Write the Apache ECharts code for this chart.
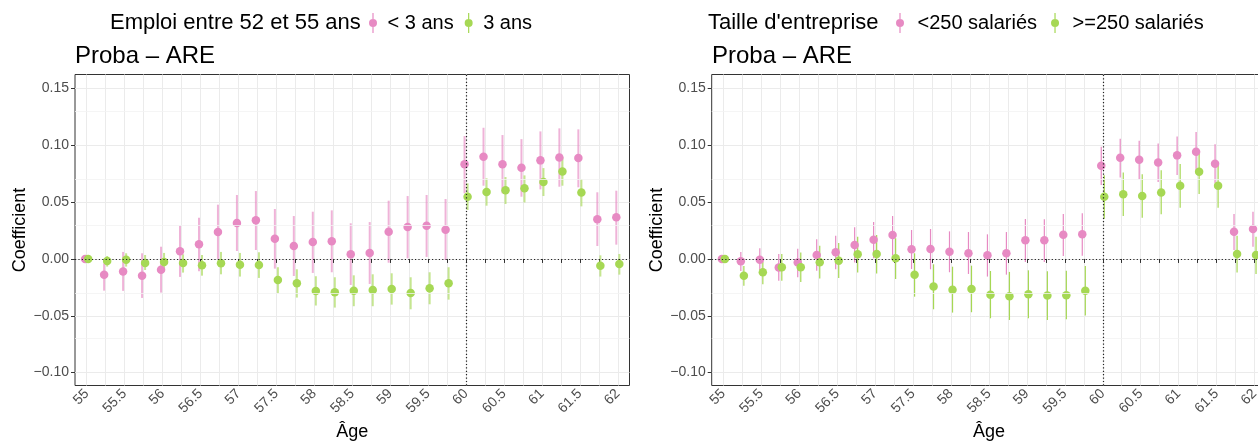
<!DOCTYPE html>
<html><head><meta charset="utf-8">
<script src="https://cdn.jsdelivr.net/npm/echarts@6/dist/echarts.min.js"></script>
<style>html,body{margin:0;padding:0;background:#fff;overflow:hidden}#c{width:1258px;height:441px}</style>
</head><body><div id="c"></div><script>
// ---- data ----
const ages = [55, 55.25, 55.5, 55.75, 56, 56.25, 56.5, 56.75, 57, 57.25, 57.5, 57.75, 58, 58.25,
  58.5, 58.75, 59, 59.25, 59.5, 59.75, 60, 60.25, 60.5, 60.75, 61, 61.25, 61.5, 61.75, 62];
const xLabelValues = [55, 55.5, 56, 56.5, 57, 57.5, 58, 58.5, 59, 59.5, 60, 60.5, 61, 61.5, 62];
const yTickValues = [-0.10, -0.05, 0.00, 0.05, 0.10, 0.15];
const yMinorValues = [-0.075, -0.025, 0.025, 0.075, 0.125];

const legendTitleA = 'Emploi entre 52 et 55 ans';
const seriesNamesA = ['< 3 ans', '3 ans'];
const legendTitleB = "Taille d'entreprise";
const seriesNamesB = ['<250 salariés', '>=250 salariés'];
const panelTitle = 'Proba – ARE';

const pinkA_est = [0, -0.0138, -0.0111, -0.0147, -0.0094, 0.0068, 0.0129, 0.0237, 0.0317, 0.0340, 0.0179, 0.0114, 0.0150, 0.0155, 0.0041, 0.0053, 0.0240, 0.0281, 0.0293, 0.0258, 0.0833, 0.0900, 0.0833, 0.0803, 0.0868, 0.0894, 0.0888, 0.0349, 0.0367];
const pinkA_lo = [0, -0.0279, -0.0281, -0.0343, -0.0296, -0.0158, -0.0108, 0.0000, 0.0070, 0.0079, -0.0085, -0.0150, -0.0123, -0.0117, -0.0229, -0.0220, -0.0033, 0.0006, 0.0018, -0.0009, 0.0578, 0.0645, 0.0578, 0.0548, 0.0613, 0.0636, 0.0631, 0.0114, 0.0126];
const pinkA_hi = [0, -0.0038, 0.0062, 0.0050, 0.0108, 0.0293, 0.0363, 0.0478, 0.0563, 0.0598, 0.0440, 0.0378, 0.0416, 0.0428, 0.0314, 0.0325, 0.0513, 0.0554, 0.0563, 0.0528, 0.1082, 0.1155, 0.1091, 0.1055, 0.1123, 0.1150, 0.1141, 0.0587, 0.0601];

const greenA_est = [0, -0.0018, -0.0006, -0.0035, -0.0026, -0.0035, -0.0056, -0.0038, -0.0050, -0.0053, -0.0185, -0.0214, -0.0281, -0.0293, -0.0279, -0.0273, -0.0264, -0.0299, -0.0258, -0.0214, 0.0548, 0.0589, 0.0604, 0.0622, 0.0677, 0.0771, 0.0586, -0.0059, -0.0044];
const greenA_lo = [0, -0.0067, -0.0067, -0.0097, -0.0108, -0.0120, -0.0147, -0.0135, -0.0155, -0.0167, -0.0302, -0.0340, -0.0410, -0.0428, -0.0416, -0.0416, -0.0402, -0.0443, -0.0399, -0.0358, 0.0431, 0.0469, 0.0484, 0.0498, 0.0554, 0.0645, 0.0463, -0.0155, -0.0138];
const greenA_hi = [0, 0.0026, 0.0050, 0.0035, 0.0053, 0.0041, 0.0035, 0.0062, 0.0053, 0.0059, -0.0073, -0.0091, -0.0152, -0.0161, -0.0144, -0.0135, -0.0126, -0.0161, -0.0117, -0.0073, 0.0666, 0.0710, 0.0721, 0.0736, 0.0800, 0.0894, 0.0704, 0.0032, 0.0044];

const pinkB_est = [0, -0.0021, -0.0006, -0.0076, -0.0032, 0.0035, 0.0059, 0.0123, 0.0170, 0.0211, 0.0085, 0.0088, 0.0064, 0.0050, 0.0032, 0.0050, 0.0164, 0.0164, 0.0214, 0.0217, 0.0821, 0.0891, 0.0873, 0.0850, 0.0912, 0.0944, 0.0838, 0.0240, 0.0264];
const pinkB_lo = [0, -0.0106, -0.0097, -0.0191, -0.0161, -0.0103, -0.0091, -0.0032, 0.0006, 0.0035, -0.0088, -0.0091, -0.0117, -0.0132, -0.0155, -0.0138, -0.0026, -0.0026, 0.0026, 0.0029, 0.0651, 0.0718, 0.0701, 0.0677, 0.0739, 0.0777, 0.0666, 0.0079, 0.0108];
const pinkB_hi = [0, 0.0062, 0.0094, 0.0044, 0.0091, 0.0173, 0.0205, 0.0279, 0.0325, 0.0378, 0.0255, 0.0264, 0.0243, 0.0237, 0.0217, 0.0237, 0.0352, 0.0349, 0.0396, 0.0402, 0.0988, 0.1058, 0.1040, 0.1017, 0.1079, 0.1117, 0.1009, 0.0396, 0.0416];

const greenB_est = [0, -0.0147, -0.0117, -0.0073, -0.0073, -0.0029, -0.0015, 0.0041, 0.0044, 0.0006, -0.0138, -0.0243, -0.0270, -0.0264, -0.0314, -0.0328, -0.0311, -0.0322, -0.0319, -0.0279, 0.0548, 0.0569, 0.0554, 0.0586, 0.0645, 0.0768, 0.0645, 0.0044, 0.0035];
const greenB_lo = [0, -0.0235, -0.0223, -0.0191, -0.0202, -0.0173, -0.0167, -0.0120, -0.0129, -0.0176, -0.0332, -0.0443, -0.0472, -0.0469, -0.0522, -0.0537, -0.0522, -0.0537, -0.0530, -0.0498, 0.0355, 0.0378, 0.0363, 0.0393, 0.0451, 0.0572, 0.0451, -0.0120, -0.0132];
const greenB_hi = [0, -0.0062, -0.0026, 0.0044, 0.0056, 0.0117, 0.0141, 0.0196, 0.0211, 0.0182, 0.0050, -0.0047, -0.0068, -0.0059, -0.0106, -0.0114, -0.0100, -0.0108, -0.0103, -0.0062, 0.0736, 0.0762, 0.0745, 0.0780, 0.0836, 0.0930, 0.0836, 0.0205, 0.0196];

// ---- style ----
const PINK = '#E78AC3', GREEN = '#A6D854';
const FONT = "'Liberation Sans', Arial, Helvetica, sans-serif";
const DODGE = 0.02;
const X_MIN = 54.846, X_MAX = 62.154, Y_MIN = -0.1114, Y_MAX = 0.1624;
const ICON = 'path://M4.4,0 L5.6,0 L5.6,20 L4.4,20 Z M9,10 A4,4 0 1 1 1,10 A4,4 0 1 1 9,10 Z';

const chart = echarts.init(document.getElementById('c'), null, {renderer: 'canvas'});

function fmtY(v) {
  const s = Math.abs(v).toFixed(2);
  return (v < -1e-9 ? '\u2212' : '') + s;
}

function xAxisDef(gi) {
  return {
    type: 'value', gridIndex: gi, min: X_MIN, max: X_MAX,
    name: 'Âge', nameLocation: 'middle', nameGap: 38,
    nameTextStyle: {fontFamily: FONT, fontSize: 18, color: '#000'},
    axisLine: {show: false},
    axisTick: {show: true, length: 4, lineStyle: {color: '#333', width: 1}, customValues: ages},
    axisLabel: {show: true, customValues: xLabelValues, rotate: 45, margin: 6,
      fontFamily: FONT, fontSize: 14, color: '#4d4d4d', formatter: v => String(+v.toFixed(2))},
    splitLine: {show: true, lineStyle: {color: '#ebebeb', width: 1}}
  };
}
function yAxisDef(gi) {
  return {
    type: 'value', gridIndex: gi, min: Y_MIN, max: Y_MAX,
    name: 'Coefficient', nameLocation: 'middle', nameGap: 46,
    nameTextStyle: {fontFamily: FONT, fontSize: 18, color: '#000'},
    axisLine: {show: false},
    axisTick: {show: true, length: 4, lineStyle: {color: '#333', width: 1}, customValues: yTickValues},
    axisLabel: {show: true, customValues: yTickValues, margin: 6,
      fontFamily: FONT, fontSize: 14, color: '#4d4d4d', formatter: fmtY},
    splitLine: {show: true, lineStyle: {color: '#ebebeb', width: 1}}
  };
}

function errSeries(name, lo, hi, dx, color, width, gi) {
  return {
    type: 'custom', name: name, xAxisIndex: gi, yAxisIndex: gi, silent: true, z: 3,
    data: ages.map((a, i) => [a + dx, lo[i], hi[i]]),
    encode: {x: 0, y: [1, 2]},
    renderItem: (params, api) => {
      const p1 = api.coord([api.value(0), api.value(1)]);
      const p2 = api.coord([api.value(0), api.value(2)]);
      return {type: 'line', shape: {x1: p1[0], y1: p1[1], x2: p2[0], y2: p2[1]},
        style: {stroke: color, lineWidth: width}};
    }
  };
}
function pointSeries(name, est, dx, color, gi) {
  return {
    type: 'scatter', name: name, xAxisIndex: gi, yAxisIndex: gi, z: 4,
    symbol: 'circle', symbolSize: 8.5, itemStyle: {color: color, opacity: 1},
    data: ages.map((a, i) => [a + dx, est[i]])
  };
}
function guideSeries(gi) {
  return [{
    type: 'scatter', xAxisIndex: gi, yAxisIndex: gi, data: [], silent: true, z: 1,
    markLine: {silent: true, symbol: 'none', label: {show: false}, animation: false,
      lineStyle: {color: '#f2f2f2', width: 0.8, type: 'solid'},
      data: yMinorValues.map(v => ({yAxis: v}))}
  }, {
    type: 'scatter', xAxisIndex: gi, yAxisIndex: gi, data: [], silent: true, z: 2,
    markLine: {silent: true, symbol: 'none', label: {show: false}, animation: false,
      lineStyle: {color: '#222', width: 1.2, type: [1.2, 2.2]},
      data: [{yAxis: 0}, {xAxis: 60}]}
  }];
}

const legendTextA = {fontFamily: FONT, fontSize: 20, color: '#000', padding: [0, 0, 0, 5]};
const legendTextB = {fontFamily: FONT, fontSize: 20, color: '#000', padding: [0, 0, 0, 8]};
const titleText = {fontFamily: FONT, fontSize: 22, fontWeight: 'normal', color: '#000'};
const panelText = {fontFamily: FONT, fontSize: 24, fontWeight: 'normal', color: '#000'};

const option = {
  animation: false,
  backgroundColor: '#fff',
  textStyle: {fontFamily: FONT},
  title: [
    {text: legendTitleA, left: 110, top: 12, padding: 0, textStyle: titleText},
    {text: panelTitle, left: 75, top: 44, padding: 0, textStyle: panelText},
    {text: legendTitleB, left: 708, top: 12, padding: 0, textStyle: titleText},
    {text: panelTitle, left: 712, top: 44, padding: 0, textStyle: panelText}
  ],
  legend: [
    {left: 369, top: 13, padding: 0, itemWidth: 9, itemHeight: 20, itemGap: 11, selectedMode: false,
      textStyle: legendTextA,
      data: [{name: seriesNamesA[0], icon: ICON, itemStyle: {color: PINK}},
             {name: seriesNamesA[1], icon: ICON, itemStyle: {color: GREEN}}]},
    {left: 896, top: 13, padding: 0, itemWidth: 9, itemHeight: 20, itemGap: 14, selectedMode: false,
      textStyle: legendTextB,
      data: [{name: seriesNamesB[0], icon: ICON, itemStyle: {color: PINK}},
             {name: seriesNamesB[1], icon: ICON, itemStyle: {color: GREEN}}]}
  ],
  grid: [
    {left: 75, top: 74.5, width: 554.5, height: 311, show: true, borderColor: '#333', borderWidth: 1,
      backgroundColor: '#fff', outerBoundsMode: 'none', containLabel: false},
    {left: 711.7, top: 74.5, width: 554.5, height: 311, show: true, borderColor: '#333', borderWidth: 1,
      backgroundColor: '#fff', outerBoundsMode: 'none', containLabel: false}
  ],
  xAxis: [xAxisDef(0), xAxisDef(1)],
  yAxis: [yAxisDef(0), yAxisDef(1)],
  series: [
    ...guideSeries(0), ...guideSeries(1),
    errSeries(seriesNamesA[0], pinkA_lo, pinkA_hi, -DODGE, 'rgba(231,138,195,0.65)', 2, 0),
    pointSeries(seriesNamesA[0], pinkA_est, -DODGE, PINK, 0),
    errSeries(seriesNamesA[1], greenA_lo, greenA_hi, DODGE, 'rgba(166,216,84,0.65)', 2, 0),
    pointSeries(seriesNamesA[1], greenA_est, DODGE, GREEN, 0),
    errSeries(seriesNamesB[0], pinkB_lo, pinkB_hi, -DODGE, PINK, 1.2, 1),
    pointSeries(seriesNamesB[0], pinkB_est, -DODGE, PINK, 1),
    errSeries(seriesNamesB[1], greenB_lo, greenB_hi, DODGE, GREEN, 1.2, 1),
    pointSeries(seriesNamesB[1], greenB_est, DODGE, GREEN, 1)
  ]
};
chart.setOption(option);
</script></body></html>
